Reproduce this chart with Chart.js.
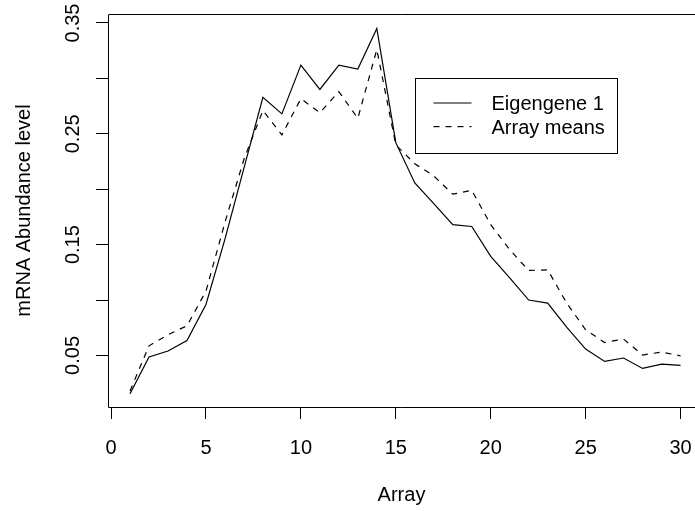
<!DOCTYPE html>
<html>
<head>
<meta charset="utf-8">
<title>Eigengene 1 vs array means</title>
<script src="https://cdn.jsdelivr.net/npm/chart.js"></script>
<style>
  html, body { margin: 0; padding: 0; background: #fff; overflow: hidden; }
  canvas { display: block; }
</style>
</head>
<body>
<canvas id="chart" width="695" height="511"></canvas>
<script>
// values
const arrayIdx = [1, 2, 3, 4, 5, 6, 7, 8, 9, 10, 11, 12, 13, 14, 15,
                  16, 17, 18, 19, 20, 21, 22, 23, 24, 25, 26, 27, 28, 29, 30];
const eigengene1 = [0.0155, 0.0486, 0.054, 0.0635, 0.096, 0.155, 0.219, 0.283, 0.268, 0.312,
                    0.290, 0.312, 0.3085, 0.345, 0.242, 0.2056, 0.187, 0.168, 0.1664, 0.1394,
                    0.120, 0.100, 0.0973, 0.0756, 0.0558, 0.0446, 0.0477, 0.0383, 0.0422, 0.041];
const arrayMeans = [0.018, 0.0587, 0.0687, 0.0768, 0.108, 0.170, 0.227, 0.271, 0.249, 0.2817,
                    0.269, 0.288, 0.264, 0.326, 0.240, 0.223, 0.212, 0.1955, 0.199, 0.168,
                    0.1454, 0.1267, 0.1273, 0.0973, 0.0732, 0.0617, 0.0648, 0.0504, 0.0531, 0.0497];
const xTicks = [0, 5, 10, 15, 20, 25, 30];
const yTicks = [0.05, 0.10, 0.15, 0.20, 0.25, 0.30, 0.35];
const yTickLabels = ['0.05', '', '0.15', '', '0.25', '', '0.35'];
const seriesNames = ['Eigengene 1', 'Array means'];

const FONT = '20px "Liberation Sans", Arial, Helvetica, sans-serif';
Chart.defaults.font.family = '"Liberation Sans", Arial, Helvetica, sans-serif';
Chart.defaults.font.size = 20;
Chart.defaults.color = '#000';

const toPoints = (ys) => arrayIdx.map((x, i) => ({ x: x, y: ys[i] }));

// box, tick labels and legend in the style of base R graphics
const rStyle = {
  id: 'rStyle',
  afterDraw(chart) {
    const ctx = chart.ctx;
    const a = chart.chartArea;
    const xs = chart.scales.x, ys = chart.scales.y;
    ctx.save();
    ctx.strokeStyle = '#000';
    ctx.lineWidth = 1;
    ctx.beginPath();
    ctx.moveTo(a.right, a.top + 0.5);
    ctx.lineTo(a.left + 0.5, a.top + 0.5);
    ctx.lineTo(a.left + 0.5, a.bottom + 0.5);
    ctx.lineTo(a.right, a.bottom + 0.5);
    ctx.stroke();

    ctx.fillStyle = '#000';
    ctx.font = FONT;
    ctx.textAlign = 'center';
    ctx.textBaseline = 'alphabetic';
    xTicks.forEach(v => {
      ctx.fillText(String(v), xs.getPixelForValue(v), a.bottom + 47);
    });
    yTicks.forEach((v, i) => {
      if (!yTickLabels[i]) return;
      ctx.save();
      ctx.translate(a.left - 29.5, ys.getPixelForValue(v));
      ctx.rotate(-Math.PI / 2);
      ctx.fillText(yTickLabels[i], 0, 0);
      ctx.restore();
    });

    // legend placed at (16, 0.30) in data units
    const lx = Math.round(xs.getPixelForValue(16)) + 0.5;
    const ly = Math.round(ys.getPixelForValue(0.30)) + 0.5;
    ctx.strokeRect(lx, ly, 202, 75);
    ctx.textAlign = 'left';
    seriesNames.forEach((name, i) => {
      const rowY = ly + 24.5 + i * 23.6;
      ctx.setLineDash(i === 0 ? [] : [6, 6]);
      ctx.lineWidth = 1.2;
      ctx.beginPath();
      ctx.moveTo(lx + 18, rowY);
      ctx.lineTo(lx + 56, rowY);
      ctx.stroke();
      ctx.setLineDash([]);
      ctx.fillText(name, lx + 76, rowY + 7.2);
    });
    ctx.restore();
  }
};

const axisGrid = {
  drawOnChartArea: false,
  drawTicks: true,
  tickLength: 12,
  color: '#000',
  lineWidth: 1
};

new Chart(document.getElementById('chart').getContext('2d'), {
  type: 'line',
  data: {
    datasets: [
      {
        label: seriesNames[0],
        data: toPoints(eigengene1),
        borderColor: '#000',
        borderWidth: 1.2,
        pointRadius: 0,
        tension: 0,
        fill: false
      },
      {
        label: seriesNames[1],
        data: toPoints(arrayMeans),
        borderColor: '#000',
        borderWidth: 1.2,
        borderDash: [6, 6],
        pointRadius: 0,
        tension: 0,
        fill: false
      }
    ]
  },
  options: {
    responsive: false,
    animation: false,
    devicePixelRatio: 1,
    layout: { padding: { top: 14, left: 0, right: 0, bottom: 0 } },
    plugins: { legend: { display: false }, tooltip: { enabled: false } },
    scales: {
      x: {
        type: 'linear',
        min: -0.16,
        max: 30.76,
        afterBuildTicks: (s) => { s.ticks = xTicks.map(v => ({ value: v })); },
        afterFit: (s) => { s.height = 104; },
        ticks: { display: false },
        grid: axisGrid,
        border: { display: false },
        title: { display: true, text: 'Array', color: '#000', font: { size: 20 }, padding: { top: 4, bottom: 4 } }
      },
      y: {
        type: 'linear',
        min: 0.0035,
        max: 0.3581,
        afterBuildTicks: (s) => { s.ticks = yTicks.map(v => ({ value: v })); },
        afterFit: (s) => { s.width = 108; },
        ticks: { display: false },
        grid: axisGrid,
        border: { display: false },
        title: { display: true, text: 'mRNA Abundance level', color: '#000', font: { size: 20 }, padding: { top: 12, bottom: 12 } }
      }
    }
  },
  plugins: [rStyle]
});
</script>
</body>
</html>
